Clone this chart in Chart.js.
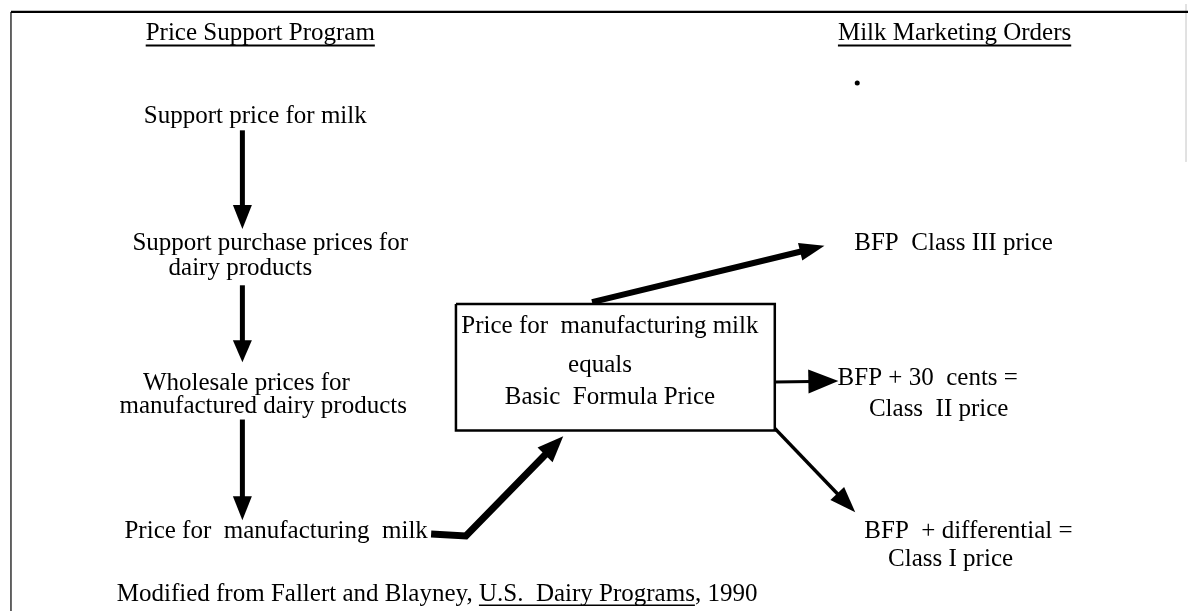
<!DOCTYPE html>
<html>
<head>
<meta charset="utf-8">
<script src="https://cdn.jsdelivr.net/npm/chart.js@4.4.1/dist/chart.umd.min.js"></script>
<style>
html,body{margin:0;padding:0;background:#ffffff;overflow:hidden}
canvas{display:block}
</style>
</head>
<body>
<canvas id="c" width="1192" height="615"></canvas>
<script>
// ---- Diagram data (positions in chart units: x 0..1192, y 0..615 top-down) ----
const headingLabels = ["Price Support Program", "Milk Marketing Orders"];
const headingX = [258, 957];
const headingY = [36, 36];

const nodeLabels = [
  "Support price for milk",
  "Support purchase prices for",
  "dairy products",
  "Wholesale prices for",
  "manufactured dairy products",
  "Price for  manufacturing  milk",
  "Price for  manufacturing milk",
  "equals",
  "Basic  Formula Price",
  "BFP  Class III price",
  "BFP + 30  cents =",
  "Class  II price",
  "BFP  + differential =",
  "Class I price"
];
const nodeX = [253, 268, 238, 244, 261, 274, 610, 600, 610, 956, 930, 941, 971, 953];
const nodeY = [121, 249, 275, 391, 414, 541, 333, 373, 405, 249, 386, 417, 541, 569];

const footerParts = ["Modified from Fallert and Blayney, ", "U.S.  Dairy Programs", ", 1990"];
const footerX = 436;
const footerY = 605;

// arrows: list of path points, last point is the arrow tip
const arrowSupport = [{x:240,y:128},{x:240,y:228}];
const arrowPurchase = [{x:240,y:285},{x:240,y:363}];
const arrowWholesale = [{x:240,y:421},{x:240,y:523}];
const arrowToBox = [{x:430,y:537},{x:465,y:539},{x:563,y:438}];
const arrowClass3 = [{x:592,y:302},{x:826,y:245}];
const arrowClass2 = [{x:776,y:383},{x:840,y:382}];
const arrowClass1 = [{x:776,y:430},{x:857,y:515}];

const boxOutline = [{x:455,y:304},{x:776,y:304},{x:776,y:432},{x:455,y:432},{x:455,y:304}];
const frameTop = [{x:7,y:8},{x:1192,y:8}];
const frameLeft = [{x:7,y:8},{x:7,y:615}];
const frameRight = [{x:1190,y:0},{x:1190,y:160}];
const strayDot = [{x:859,y:80}];

// ---- styles ----
const INK = "#000000";
const FONT = "25px 'Liberation Serif', 'Times New Roman', serif";

function lineDS(data, width, color){
  return {type:'scatter', data, showLine:true, borderColor:color||INK, borderWidth:width,
          pointRadius:0, fill:false, tension:0, borderJoinStyle:'miter', borderCapStyle:'butt'};
}
function arrowDS(data, width, len, headW){
  const d = lineDS(data, width);
  d.arrow = {len, width: headW};
  return d;
}

const datasets = [
  lineDS(frameTop, 2.2),
  lineDS(frameLeft, 1.8, "#555555"),
  lineDS(frameRight, 1, "#dddddd"),
  lineDS(boxOutline, 2.5),
  arrowDS(arrowSupport, 5, 24, 19),
  arrowDS(arrowPurchase, 5, 22, 19),
  arrowDS(arrowWholesale, 5, 24, 19),
  arrowDS(arrowToBox, 7, 26, 21),
  arrowDS(arrowClass3, 6, 25, 18),
  arrowDS(arrowClass2, 3, 30, 24),
  arrowDS(arrowClass1, 3.5, 26, 19),
  {type:'scatter', data:strayDot, showLine:false, pointRadius:2.5, pointBackgroundColor:INK, pointBorderWidth:0}
];

const arrowPlugin = {
  id:'arrowDraw',
  beforeDatasetDraw(chart, args){
    const ds = chart.data.datasets[args.index];
    if(!ds.arrow) return;
    const pts = args.meta.data.map(p => ({x:p.x, y:p.y}));
    const n = pts.length;
    const ctx = chart.ctx;
    const tip = pts[n-1], prev = pts[n-2];
    const dx = tip.x - prev.x, dy = tip.y - prev.y;
    const len = Math.hypot(dx, dy);
    const ux = dx/len, uy = dy/len;
    const L = ds.arrow.len, W = ds.arrow.width;
    const bx = tip.x - ux*L, by = tip.y - uy*L;
    ctx.save();
    ctx.strokeStyle = ds.borderColor;
    ctx.fillStyle = ds.borderColor;
    ctx.lineWidth = ds.borderWidth;
    ctx.lineJoin = 'miter';
    ctx.lineCap = 'butt';
    ctx.beginPath();
    ctx.moveTo(pts[0].x, pts[0].y);
    for(let i=1;i<n-1;i++) ctx.lineTo(pts[i].x, pts[i].y);
    ctx.lineTo(bx + ux*3, by + uy*3);
    ctx.stroke();
    ctx.beginPath();
    ctx.moveTo(tip.x, tip.y);
    ctx.lineTo(bx - uy*W/2, by + ux*W/2);
    ctx.lineTo(bx + uy*W/2, by - ux*W/2);
    ctx.closePath();
    ctx.fill();
    ctx.restore();
    return false;
  }
};

const textPlugin = {
  id:'diagramText',
  afterDatasetsDraw(chart){
    const ctx = chart.ctx, sx = chart.scales.x, sy = chart.scales.y;
    ctx.save();
    ctx.fillStyle = INK;
    ctx.strokeStyle = INK;
    ctx.font = FONT;
    ctx.textBaseline = 'alphabetic';
    ctx.textAlign = 'center';
    // headings (underlined)
    headingLabels.forEach((t,i) => {
      const x = sx.getPixelForValue(headingX[i]), y = sy.getPixelForValue(headingY[i]);
      ctx.fillText(t, x, y);
      const w = ctx.measureText(t).width;
      ctx.lineWidth = 2;
      ctx.beginPath(); ctx.moveTo(x - w/2, y + 6); ctx.lineTo(x + w/2, y + 6); ctx.stroke();
    });
    // nodes
    nodeLabels.forEach((t,i) => {
      ctx.fillText(t, sx.getPixelForValue(nodeX[i]), sy.getPixelForValue(nodeY[i]));
    });
    // footer with underlined title
    ctx.textAlign = 'left';
    const full = footerParts.join("");
    const fw = ctx.measureText(full).width;
    const fx = sx.getPixelForValue(footerX) - fw/2, fy = sy.getPixelForValue(footerY);
    ctx.fillText(full, fx, fy);
    const u0 = fx + ctx.measureText(footerParts[0]).width;
    const u1 = u0 + ctx.measureText(footerParts[1]).width;
    ctx.lineWidth = 1.5;
    ctx.beginPath(); ctx.moveTo(u0, fy + 4); ctx.lineTo(u1, fy + 4); ctx.stroke();
    ctx.restore();
  }
};

new Chart(document.getElementById('c').getContext('2d'), {
  type:'scatter',
  data:{datasets},
  options:{
    responsive:false,
    animation:false,
    devicePixelRatio:1,
    events:[],
    layout:{padding:0},
    plugins:{legend:{display:false}, tooltip:{enabled:false}, title:{display:false}},
    scales:{
      x:{type:'linear', min:0, max:1192, display:false},
      y:{type:'linear', min:0, max:615, reverse:true, display:false}
    }
  },
  plugins:[arrowPlugin, textPlugin]
});
</script>
</body>
</html>
